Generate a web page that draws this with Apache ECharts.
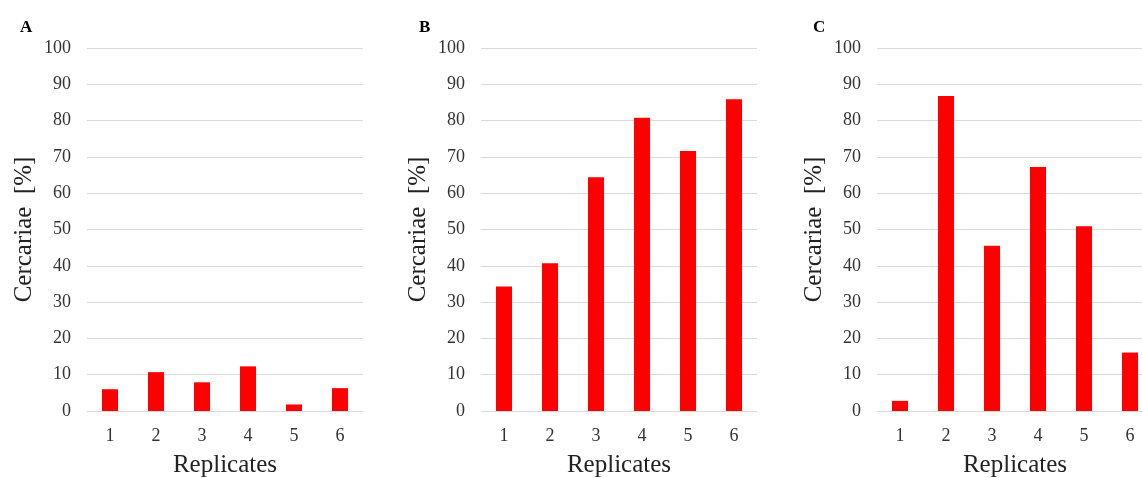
<!DOCTYPE html>
<html>
<head>
<meta charset="utf-8">
<script src="https://cdn.jsdelivr.net/npm/echarts@6/dist/echarts.min.js"></script>
<style>
  html, body {margin: 0; padding: 0; background: #fff; overflow: hidden;}
  #chart {width: 1142px; height: 478px;}
</style>
</head>
<body>
<div id="chart"></div>
<script>
// replicate numbers on the x axis
const replicates = ['1', '2', '3', '4', '5', '6']
// cercariae [%] per panel
const valuesA = [6.0, 10.7, 7.9, 12.3, 1.8, 6.3]
const valuesB = [34.3, 40.7, 64.4, 80.8, 71.6, 85.9]
const valuesC = [2.8, 86.8, 45.5, 67.2, 50.9, 16.1]
const panelNames = ['A', 'B', 'C']

const font = 'Liberation Serif, Times New Roman, serif'
const gridLefts = [87, 481, 877]
const labelLefts = [15, 414, 808]
const allValues = [valuesA, valuesB, valuesC]

const myChart = echarts.init(document.getElementById('chart'))

const option = {
  animation: false,
  backgroundColor: '#fff',
  title: panelNames.map((n, i) => ({
    text: n,
    left: labelLefts[i],
    top: 14,
    textStyle: {fontFamily: font, fontSize: 17, fontWeight: 'bold', color: '#000'}
  })),
  // third panel runs past the right edge like the original, so no bounds clamping
  grid: gridLefts.map(l => ({left: l, width: 276, top: 48, bottom: 67, outerBoundsMode: 'none', containLabel: false})),
  xAxis: gridLefts.map((l, i) => ({
    type: 'category',
    gridIndex: i,
    data: replicates,
    name: 'Replicates',
    nameLocation: 'middle',
    nameGap: 42,
    nameTextStyle: {fontFamily: font, fontSize: 25, color: '#222'},
    axisLine: {show: false},
    axisTick: {show: false},
    axisLabel: {fontFamily: font, fontSize: 18, color: '#333', margin: 16}
  })),
  yAxis: gridLefts.map((l, i) => ({
    type: 'value',
    gridIndex: i,
    min: 0,
    max: 100,
    interval: 10,
    name: 'Cercariae  [%]',
    nameLocation: 'middle',
    nameGap: 50,
    nameTextStyle: {fontFamily: font, fontSize: 25, color: '#222'},
    axisLine: {show: false},
    axisTick: {show: false},
    axisLabel: {fontFamily: font, fontSize: 18, color: '#333', margin: 16},
    splitLine: {lineStyle: {color: '#d9d9d9', width: 1}}
  })),
  series: allValues.map((vals, i) => ({
    type: 'bar',
    xAxisIndex: i,
    yAxisIndex: i,
    data: vals,
    barWidth: 16,
    itemStyle: {color: '#ff0000'}
  }))
}

myChart.setOption(option)
window.addEventListener('resize', () => myChart.resize())
</script>
</body>
</html>
